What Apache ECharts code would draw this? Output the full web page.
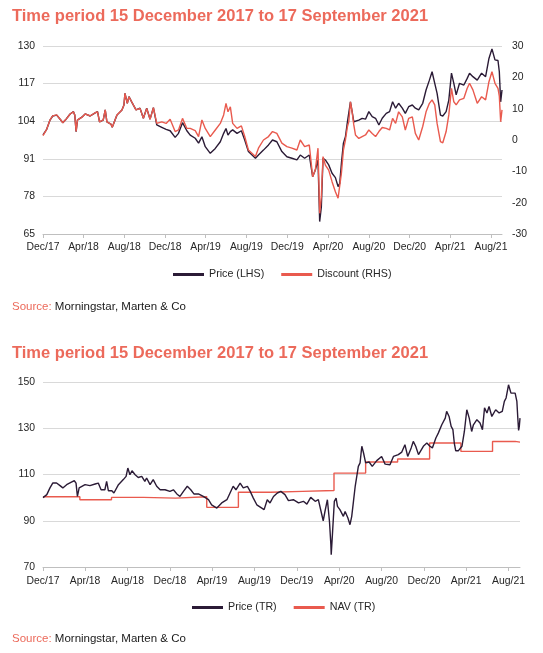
<!DOCTYPE html>
<html>
<head>
<meta charset="utf-8">
<script src="https://cdn.jsdelivr.net/npm/echarts@6.0.0/dist/echarts.min.js"></script>
<style>
html,body{margin:0;padding:0;background:#fff;}
#c{width:543px;height:653px;}
</style>
</head>
<body>
<div id="c"></div>
<script>
// ---------- DATA ----------
const titleText = 'Time period 15 December 2017 to 17 September 2021';
const sourceLabel = 'Source:';
const sourceText = 'Morningstar, Marten & Co';

const tickDates = ['2017-12-15','2018-04-15','2018-08-15','2018-12-15','2019-04-15','2019-08-15',
  '2019-12-15','2020-04-15','2020-08-15','2020-12-15','2021-04-15','2021-08-15'];
const tickLabels = ['Dec/17','Apr/18','Aug/18','Dec/18','Apr/19','Aug/19',
  'Dec/19','Apr/20','Aug/20','Dec/20','Apr/21','Aug/21'];

// Chart 1: Price (LHS) and Discount (RHS)
const c1Dates = [
  '2017-12-15','2017-12-26','2018-01-05','2018-01-13','2018-01-25','2018-02-06','2018-02-12','2018-02-22','2018-03-06','2018-03-16',
  '2018-03-20','2018-03-24','2018-03-28','2018-04-10','2018-04-20','2018-05-05','2018-05-20','2018-05-27','2018-06-02','2018-06-13',
  '2018-06-19','2018-06-24','2018-07-06','2018-07-10','2018-07-24','2018-08-08','2018-08-14','2018-08-17','2018-08-24','2018-08-29',
  '2018-09-06','2018-09-19','2018-10-01','2018-10-11','2018-10-21','2018-10-31','2018-11-10','2018-11-20','2018-12-05','2018-12-18',
  '2018-12-30','2019-01-14','2019-01-24','2019-02-05','2019-02-18','2019-02-28','2019-03-15','2019-03-25','2019-04-04','2019-04-14',
  '2019-04-29','2019-05-14','2019-05-29','2019-06-08','2019-06-15','2019-06-21','2019-06-28','2019-07-05','2019-07-18','2019-07-31',
  '2019-08-10','2019-08-21','2019-09-11','2019-09-20','2019-10-05','2019-10-20','2019-11-01','2019-11-14','2019-11-29','2019-12-14',
  '2019-12-29','2020-01-13','2020-01-23','2020-02-05','2020-02-19','2020-02-29','2020-03-08','2020-03-16','2020-03-21','2020-03-26',
  '2020-03-31','2020-04-07','2020-04-17','2020-04-27','2020-05-07','2020-05-15','2020-05-20','2020-05-25','2020-05-31','2020-06-06',
  '2020-06-12','2020-06-16','2020-06-21','2020-06-26','2020-07-01','2020-07-06','2020-07-16','2020-07-26','2020-08-05','2020-08-15',
  '2020-08-25','2020-09-04','2020-09-14','2020-09-24','2020-10-06','2020-10-16','2020-10-25','2020-11-03','2020-11-12','2020-11-23',
  '2020-12-02','2020-12-12','2020-12-23','2021-01-01','2021-01-11','2021-01-23','2021-02-02','2021-02-12','2021-02-20','2021-02-28',
  '2021-03-07','2021-03-17','2021-03-24','2021-04-03','2021-04-11','2021-04-19','2021-04-26','2021-05-03','2021-05-13','2021-05-26',
  '2021-06-05','2021-06-12','2021-06-22','2021-07-05','2021-07-18','2021-07-30','2021-08-09','2021-08-18','2021-08-27','2021-09-05',
  '2021-09-09','2021-09-13','2021-09-17'
];
const c1Price = [
  99.3,101.2,104.4,105.8,106.1,104.4,103.5,104.7,106.5,107.3,
  106.1,100.4,104.4,105.4,106.5,105.8,106.9,107.3,103.8,104.4,
  107.9,103.8,103.0,101.9,106.1,107.9,109.6,113.6,110.2,112.5,
  110.7,107.9,108.5,105.0,108.5,104.7,108.7,102.7,101.9,101.2,
  100.7,98.4,99.8,103.5,100.7,99.2,98.1,96.4,98.6,95.2,
  92.9,94.6,96.9,99.8,101.5,99.2,100.4,101.0,99.8,100.7,
  97.5,93.5,91.2,92.3,94.0,95.8,97.5,96.9,93.5,91.7,
  91.2,90.6,92.3,91.2,92.3,84.8,87.1,90.6,69.3,74.4,
  91.2,90.6,88.9,86.0,84.5,81.4,82.5,89.4,96.4,98.6,
  103.8,104.4,110.7,107.3,103.8,104.4,104.4,105.0,104.7,107.3,
  105.6,105.0,102.7,105.0,106.7,107.3,110.7,108.5,110.2,108.5,
  106.7,109.0,109.6,108.5,107.9,110.2,114.8,118.2,121.1,117.1,
  113.6,106.1,105.8,107.3,111.3,120.6,117.1,113.1,117.1,116.5,
  118.8,120.6,119.4,118.2,120.6,119.4,125.7,129.0,125.2,125.0,
  121.1,110.7,114.8
];
const c1Discount = [
  1.4,3.4,6.4,7.7,8.0,6.4,5.5,6.6,8.3,9.0,
  8.0,2.7,6.4,7.2,8.3,7.7,8.7,9.0,5.8,6.4,
  9.6,5.8,5.1,4.1,8.0,9.6,11.2,14.9,11.7,13.8,
  12.2,9.6,10.1,6.9,10.1,6.6,10.3,5.3,5.8,5.3,
  6.6,2.7,3.2,6.9,3.7,3.7,3.0,1.1,6.4,3.7,
  1.1,3.2,5.3,8.0,11.7,9.0,10.6,5.3,3.7,4.5,
  1.1,-3.2,-5.3,-2.6,0.0,1.1,2.7,2.1,-1.0,-2.1,
  -2.6,-3.2,0.0,-2.1,-1.6,-11.7,-9.6,-2.6,-23.4,-18.1,
  -5.3,-8.0,-9.6,-13.3,-16.5,-18.6,-18.1,-10.6,-3.2,0.0,
  4.3,5.8,12.2,9.0,4.8,1.6,0.5,1.1,1.6,3.2,
  2.1,1.1,2.7,4.0,3.7,3.2,6.9,5.3,9.0,7.4,
  3.2,6.9,7.4,2.1,0.0,4.3,9.0,11.7,12.8,11.2,
  5.3,-0.5,-0.9,2.7,8.0,16.5,12.2,11.2,12.8,13.3,
  16.5,18.1,16.0,11.7,13.8,12.8,18.6,21.8,18.1,16.5,
  14.0,5.8,9.6
];

// Chart 2: Price (TR) and NAV (TR)
const c2PriceTR = [
  ['2017-12-15',100.0],['2017-12-26',101.3],['2018-01-04',104.2],['2018-01-12',106.3],['2018-01-23',106.3],
  ['2018-02-02',105.2],['2018-02-10',104.2],['2018-02-21',105.6],['2018-03-08',106.8],['2018-03-15',107.3],
  ['2018-03-20',106.3],['2018-03-24',100.5],['2018-03-29',104.2],['2018-04-15',105.6],['2018-04-29',105.2],
  ['2018-05-14',105.9],['2018-05-23',106.3],['2018-05-31',103.4],['2018-06-11',103.4],['2018-06-16',107.0],
  ['2018-06-21',103.0],['2018-07-01',103.0],['2018-07-07',102.0],['2018-07-20',105.6],['2018-08-03',107.8],
  ['2018-08-11',109.2],['2018-08-16',112.8],['2018-08-22',109.9],['2018-08-28',111.6],['2018-09-06',109.9],
  ['2018-09-15',108.7],['2018-09-25',109.2],['2018-10-04',107.0],['2018-10-09',108.5],['2018-10-19',105.6],
  ['2018-10-28',107.8],['2018-11-07',104.9],['2018-11-17',103.4],['2018-12-01',103.4],['2018-12-15',102.7],
  ['2018-12-25',103.4],['2019-01-04',101.6],['2019-01-13',100.5],['2019-01-23',102.7],['2019-02-03',104.9],
  ['2019-02-13',103.4],['2019-02-22',101.6],['2019-03-07',101.6],['2019-03-21',100.5],['2019-04-05',99.1],
  ['2019-04-14',96.9],['2019-04-29',95.5],['2019-05-13',97.7],['2019-05-28',99.1],['2019-06-06',102.0],
  ['2019-06-15',104.9],['2019-06-23',103.4],['2019-07-05',106.3],['2019-07-14',104.2],['2019-07-26',104.9],
  ['2019-08-03',102.7],['2019-08-12',99.8],['2019-08-22',96.9],['2019-09-02',95.8],['2019-09-12',94.8],
  ['2019-09-21',99.1],['2019-09-29',97.7],['2019-10-09',100.5],['2019-10-20',102.0],['2019-10-30',102.7],
  ['2019-11-11',101.3],['2019-11-21',98.7],['2019-12-05',99.1],['2019-12-20',97.7],['2020-01-03',98.4],
  ['2020-01-13',97.2],['2020-01-24',100.1],['2020-02-06',98.4],['2020-02-15',99.1],['2020-02-25',92.6],
  ['2020-02-29',90.0],['2020-03-05',94.0],['2020-03-12',99.1],['2020-03-18',89.7],['2020-03-22',79.6],
  ['2020-03-23',75.3],['2020-03-27',85.4],['2020-04-01',98.4],['2020-04-06',99.8],['2020-04-10',96.2],
  ['2020-04-17',94.8],['2020-04-27',91.9],['2020-05-02',94.0],['2020-05-10',91.2],['2020-05-16',88.3],
  ['2020-05-21',91.9],['2020-05-26',98.4],['2020-05-31',104.9],['2020-06-05',105.6],['2020-06-09',113.5],
  ['2020-06-14',115.0],['2020-06-19',122.2],['2020-06-24',119.3],['2020-06-30',115.0],['2020-07-10',115.4],
  ['2020-07-19',113.5],['2020-08-01',116.0],['2020-08-15',117.8],['2020-08-25',114.5],['2020-09-08',114.2],
  ['2020-09-18',117.8],['2020-10-02',118.6],['2020-10-12',119.7],['2020-10-21',122.9],['2020-10-29',117.8],
  ['2020-11-08',121.5],['2020-11-14',124.3],['2020-11-21',122.2],['2020-11-29',118.6],['2020-12-04',117.8],
  ['2020-12-13',122.2],['2020-12-23',123.6],['2021-01-01',122.2],['2021-01-08',121.5],['2021-01-18',125.8],
  ['2021-01-25',127.9],['2021-02-04',131.5],['2021-02-14',134.4],['2021-02-18',137.3],['2021-02-25',135.1],
  ['2021-03-03',130.8],['2021-03-08',129.4],['2021-03-12',123.6],['2021-03-16',120.3],['2021-03-24',120.3],
  ['2021-04-03',122.2],['2021-04-10',128.6],['2021-04-17',138.0],['2021-04-24',134.4],['2021-05-01',128.6],
  ['2021-05-06',131.5],['2021-05-16',133.7],['2021-05-25',132.3],['2021-06-01',129.4],['2021-06-07',138.8],
  ['2021-06-14',136.6],['2021-06-20',139.4],['2021-06-28',135.1],['2021-07-09',138.0],['2021-07-19',136.6],
  ['2021-07-28',137.3],['2021-08-03',141.6],['2021-08-08',143.1],['2021-08-15',148.8],['2021-08-22',145.2],
  ['2021-08-27',144.5],['2021-09-03',145.2],['2021-09-08',141.6],['2021-09-11',133.7],['2021-09-13',129.1],
  ['2021-09-15',130.8],['2021-09-17',134.4]
];
const c2NavTR = [
  ['2017-12-15',100.4],['2018-03-31',99.1],['2018-06-30',100.1],['2018-09-30',99.8],['2018-12-31',100.4],
  ['2019-03-31',95.8],['2019-06-30',102.3],['2019-09-30',102.7],['2019-12-31',103.1],['2020-03-31',110.6],
  ['2020-06-30',115.4],['2020-09-30',116.7],['2020-12-31',123.6],['2021-03-31',120.0],['2021-06-30',124.3],
  ['2021-09-03',124.0],['2021-09-17',124.0]
];

// ---------- STYLE ----------
const FONT = '"Liberation Sans", Arial, sans-serif';
const TITLE_COLOR = '#EC6A5B';
const DARK = '#2B1B36';
const RED = '#E95A4E';
const GRID_LINE = '#D9D9D9';
const AXIS_LINE = '#BFBFBF';
const LABEL = '#262626';

function ts(s){ const p = s.split('-').map(Number); return Date.UTC(p[0], p[1]-1, p[2]); }
const tickTs = tickDates.map(ts);
function tickFmt(v){
  for (let i = 0; i < tickTs.length; i++) if (Math.abs(tickTs[i] - v) < 43200000) return tickLabels[i];
  return '';
}
const xMin = ts('2017-12-15'), xMax = ts('2021-09-17');

function xAxisCfg(gi, margin){
  return {
    type: 'value', gridIndex: gi, min: xMin, max: xMax, scale: true,
    axisLine: { show: true, onZero: false, lineStyle: { color: AXIS_LINE, width: 1 } },
    axisTick: { show: true, length: 4, customValues: tickTs, lineStyle: { color: AXIS_LINE } },
    axisLabel: { customValues: tickTs, formatter: tickFmt, color: LABEL, fontSize: 10.4,
      fontFamily: FONT, margin: margin, hideOverlap: false },
    splitLine: { show: false }, minorTick: { show: false }
  };
}
function yAxisCfg(gi, min, max, interval, pos, split, margin){
  return {
    type: 'value', gridIndex: gi, position: pos, min: min, max: max, interval: interval,
    axisLine: { show: false }, axisTick: { show: false },
    axisLabel: { color: LABEL, fontSize: 10.4, fontFamily: FONT, margin: margin },
    splitLine: { show: split, lineStyle: { color: GRID_LINE, width: 1 } }
  };
}
function pairs(dates, vals){ return dates.map((d, i) => [ts(d), vals[i]]); }
function conv(arr){ return arr.map(p => [ts(p[0]), p[1]]); }

const titleStyle = { color: TITLE_COLOR, fontSize: 16.5, fontWeight: 'bold', fontFamily: FONT };
const srcRich = {
  a: { color: TITLE_COLOR, fontSize: 11.5, fontWeight: 'normal', fontFamily: FONT },
  b: { color: '#1A1A1A', fontSize: 11.5, fontWeight: 'normal', fontFamily: FONT }
};
const srcStyle = { fontWeight: 'normal', fontSize: 11.5, fontFamily: FONT, rich: srcRich };

const option = {
  backgroundColor: '#fff',
  animation: false,
  title: [
    { text: titleText, left: 7, top: 3, textStyle: titleStyle },
    { text: titleText, left: 7, top: 340, textStyle: titleStyle },
    { text: '{a|' + sourceLabel + '} {b|' + sourceText + '}', left: 7, top: 296, textStyle: srcStyle },
    { text: '{a|' + sourceLabel + '} {b|' + sourceText + '}', left: 7, top: 628, textStyle: srcStyle }
  ],
  legend: [
    { data: ['Price (LHS)', 'Discount (RHS)'], left: 168, top: 264, icon: 'rect', itemWidth: 31, itemHeight: 3,
      itemGap: 17, textStyle: { color: LABEL, fontSize: 10.7, fontFamily: FONT } },
    { data: ['Price (TR)', 'NAV (TR)'], left: 187, top: 597, icon: 'rect', itemWidth: 31, itemHeight: 3,
      itemGap: 17, textStyle: { color: LABEL, fontSize: 10.7, fontFamily: FONT } }
  ],
  grid: [
    { left: 43, top: 46, width: 459, height: 188 },
    { left: 43, top: 382, width: 477, height: 185 }
  ],
  xAxis: [ xAxisCfg(0, 8), xAxisCfg(1, 9) ],
  yAxis: [
    yAxisCfg(0, 65, 130, 13, 'left', true, 8),
    yAxisCfg(0, -30, 30, 10, 'right', false, 10),
    yAxisCfg(1, 70, 150, 20, 'left', true, 8)
  ],
  series: [
    { name: 'Price (LHS)', type: 'line', xAxisIndex: 0, yAxisIndex: 0, data: pairs(c1Dates, c1Price),
      symbol: 'none', color: DARK, lineStyle: { color: DARK, width: 1.4 } },
    { name: 'Discount (RHS)', type: 'line', xAxisIndex: 0, yAxisIndex: 1, data: pairs(c1Dates, c1Discount),
      symbol: 'none', color: RED, lineStyle: { color: RED, width: 1.4 } },
    { name: 'NAV (TR)', type: 'line', xAxisIndex: 1, yAxisIndex: 2, data: conv(c2NavTR), step: 'end',
      symbol: 'none', color: RED, lineStyle: { color: RED, width: 1.4 } },
    { name: 'Price (TR)', type: 'line', xAxisIndex: 1, yAxisIndex: 2, data: conv(c2PriceTR),
      symbol: 'none', color: DARK, lineStyle: { color: DARK, width: 1.4 } }
  ]
};

const chart = echarts.init(document.getElementById('c'), null, { renderer: 'canvas', width: 543, height: 653 });
chart.setOption(option);
</script>
</body>
</html>
